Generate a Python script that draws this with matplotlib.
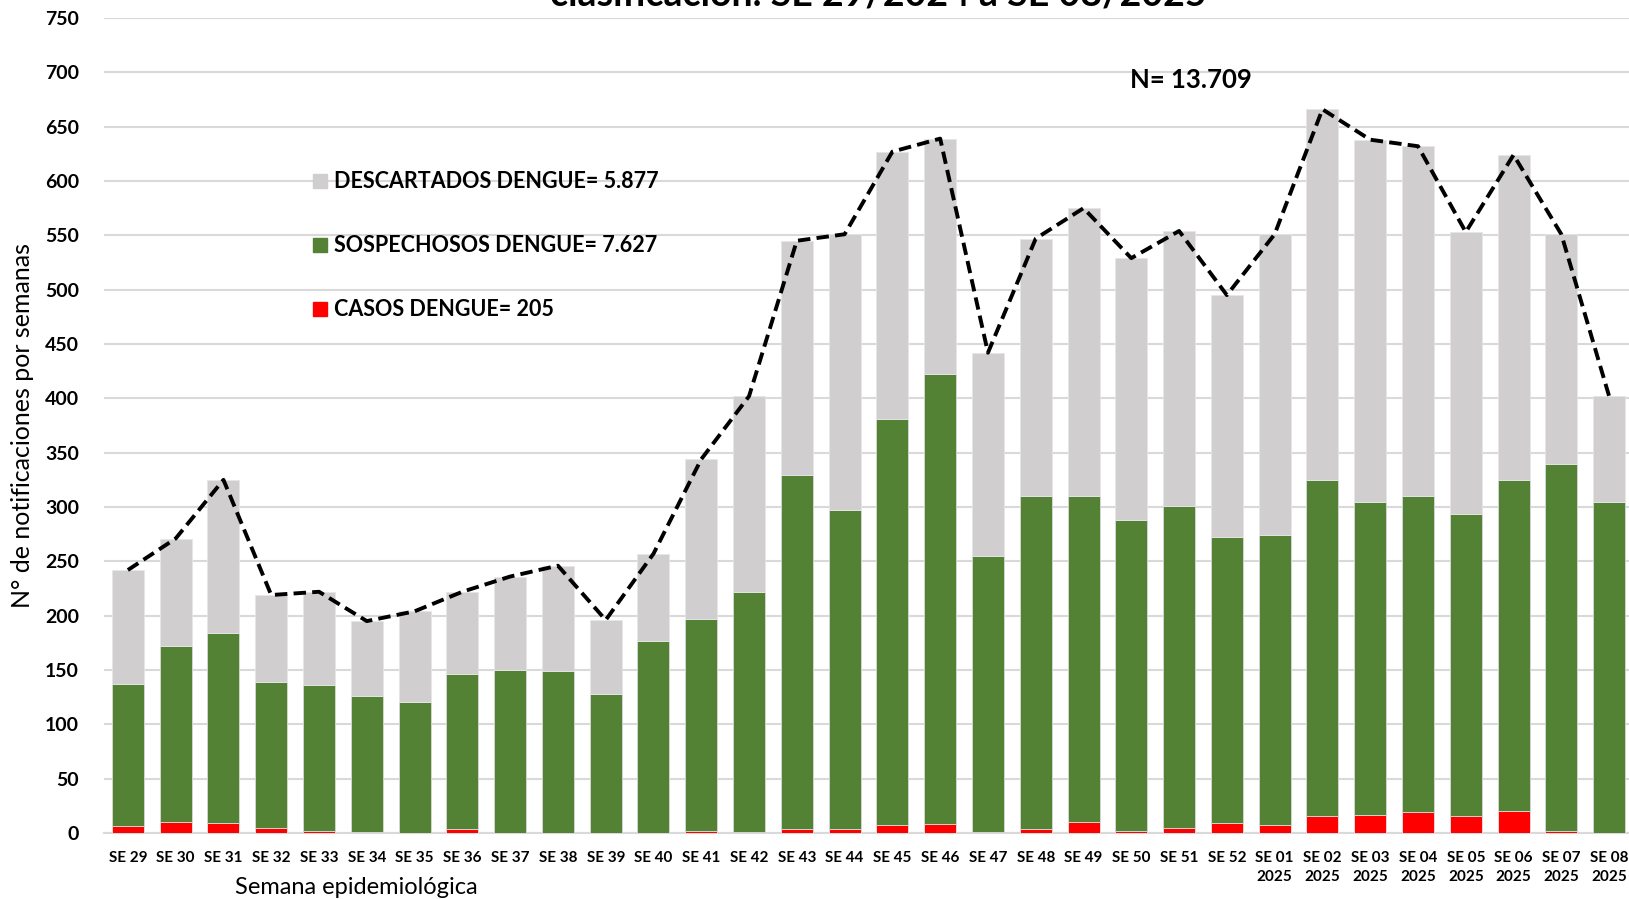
import matplotlib
matplotlib.use("Agg")
import matplotlib.pyplot as plt
import numpy as np

plt.rcParams['font.family'] = ['Lato', 'DejaVu Sans']

semanas = ["SE 29", "SE 30", "SE 31", "SE 32", "SE 33", "SE 34", "SE 35", "SE 36",
           "SE 37", "SE 38", "SE 39", "SE 40", "SE 41", "SE 42", "SE 43", "SE 44",
           "SE 45", "SE 46", "SE 47", "SE 48", "SE 49", "SE 50", "SE 51", "SE 52",
           "SE 01\n2025", "SE 02\n2025", "SE 03\n2025", "SE 04\n2025", "SE 05\n2025",
           "SE 06\n2025", "SE 07\n2025", "SE 08\n2025"]

casos = [6, 10, 9, 5, 2, 1, 0, 4, 0, 0, 0, 0, 2, 1, 4, 4,
         7, 8, 1, 4, 10, 2, 5, 9, 7, 16, 17, 19, 16, 20, 2, 0]
sospechosos = [131, 162, 175, 134, 134, 125, 121, 142, 150, 149, 128, 177, 195, 221, 325, 293,
               374, 414, 254, 306, 300, 286, 296, 263, 267, 309, 288, 291, 278, 305, 338, 305]
descartados = [105, 99, 141, 80, 86, 69, 83, 76, 86, 97, 68, 80, 147, 180, 216, 254,
               246, 217, 187, 237, 265, 241, 253, 223, 277, 341, 333, 322, 259, 299, 211, 97]

leyenda = ["DESCARTADOS DENGUE= 5.877", "SOSPECHOSOS DENGUE= 7.627", "CASOS DENGUE= 205"]
titulo = "clasificación. SE 29/2024 a SE 08/2025"
total_txt = "N= 13.709"

c_red = "#FF0000"
c_green = "#548235"
c_gray = "#D0CECE"

casos = np.array(casos)
sospechosos = np.array(sospechosos)
descartados = np.array(descartados)
total = casos + sospechosos + descartados
x = np.arange(len(semanas))

W, H = 1629, 899
fig = plt.figure(figsize=(W / 100, H / 100), dpi=100)
ax = fig.add_axes([104 / W, 66 / H, (1633 - 104) / W, (833 - 18) / H])

bw = 0.67
ax.bar(x, casos, bw, color=c_red, edgecolor='#E6E6E6', linewidth=0.6, zorder=3)
ax.bar(x, sospechosos, bw, bottom=casos, color=c_green, edgecolor='#D9D9D9', linewidth=0.6, zorder=3)
ax.bar(x, descartados, bw, bottom=casos + sospechosos, color=c_gray, edgecolor='#E6E6E6',
       linewidth=0.6, zorder=3)
ax.plot(x, total, color='black', lw=2.8, linestyle=(0, (3.2, 1.6)), zorder=4)

ax.set_xlim(-0.5, len(semanas) - 0.5)
ax.set_ylim(0, 750)
ax.set_yticks(np.arange(0, 751, 50))
ax.yaxis.grid(True, color='#D9D9D9', lw=1.5, zorder=0)
ax.set_axisbelow(True)
for s in ['top', 'right', 'left']:
    ax.spines[s].set_visible(False)
ax.spines['bottom'].set_color('#D9D9D9')
ax.spines['bottom'].set_linewidth(1.5)
ax.tick_params(axis='both', length=0)
ax.tick_params(axis='y', pad=18)
ax.tick_params(axis='x', pad=13)
ax.set_xticks(x)
ax.set_xticklabels(semanas, fontsize=11, fontweight='bold', linespacing=1.45)
for lab in ax.get_yticklabels():
    lab.set_fontsize(14)
    lab.set_fontweight('bold')

ax.set_ylabel("N° de notificaciones por semanas", fontsize=18, labelpad=8)
fig.text(356 / W, 1 - 888 / H, "Semana epidemiológica", fontsize=17, ha='center', va='center')

# custom legend
leg_y = [181, 245, 309]
leg_c = [c_gray, c_green, c_red]
for ty, col, txt in zip(leg_y, leg_c, leyenda):
    fig.patches.append(plt.Rectangle((313 / W, 1 - (ty + 7) / H), 14 / W, 14 / H,
                                     transform=fig.transFigure, color=col, figure=fig))
    fig.text(334 / W, 1 - ty / H, txt, fontsize=15.5, fontweight='bold', ha='left', va='center')

fig.text(1191 / W, 1 - 80 / H, total_txt, fontsize=18.5, fontweight='bold', ha='center', va='center')
fig.text(878 / W, 1 - 6 / H, titulo, fontsize=27, fontweight='bold', ha='center', va='baseline')

fig.savefig("out.png", dpi=100)
